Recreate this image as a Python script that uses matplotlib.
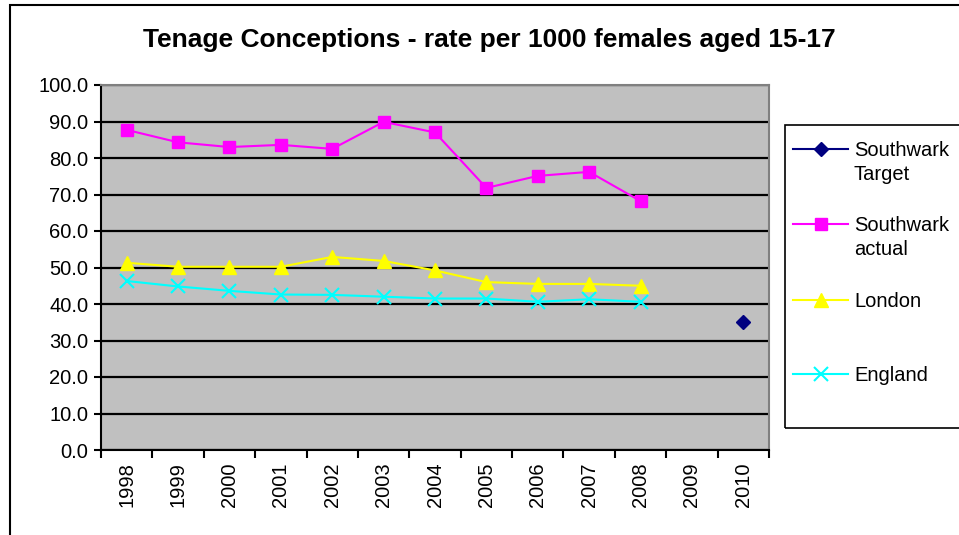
# Tenage conceptions chart, redrawn in matplotlib
import numpy as np
import matplotlib.pyplot as plt
from matplotlib.patches import Rectangle
from matplotlib.lines import Line2D
from matplotlib.ticker import FormatStrFormatter

plt.rcParams['font.family'] = ['Liberation Sans', 'DejaVu Sans']

# Data
years = ['1998', '1999', '2000', '2001', '2002', '2003', '2004',
         '2005', '2006', '2007', '2008', '2009', '2010']
southwark_actual = [87.7, 84.3, 83.0, 83.6, 82.5, 89.9, 87.0, 71.8, 75.1, 76.2, 68.2]
london = [51.3, 50.2, 50.2, 50.2, 52.9, 51.8, 49.2, 46.0, 45.5, 45.5, 45.0]
england = [46.3, 44.8, 43.6, 42.6, 42.5, 42.0, 41.5, 41.5, 40.6, 41.3, 40.6]
target_year = '2010'
target_value = [35.0]
labels = ['Southwark\nTarget', 'Southwark\nactual', 'London', 'England']

W, H = 959, 535
fig = plt.figure(figsize=(W / 100, H / 100), dpi=100)


def fx(px):
    return px / W


def fy(py):
    return 1 - py / H


# outer chart border (runs off the right and bottom edges)
fig.patches.append(Rectangle((fx(10), -0.05), 1.0, fy(5) + 0.05,
                             transform=fig.transFigure, fill=False,
                             edgecolor='black', linewidth=1.5))

ax = fig.add_axes([fx(101), fy(450), fx(668), 365 / H])
ax.set_facecolor('#C0C0C0')

x = np.arange(len(years))
ti = years.index(target_year)

styles = [
    dict(color='#000080', marker='D', markersize=7, linewidth=1.5),
    dict(color='#FF00FF', marker='s', markersize=9, linewidth=1.5),
    dict(color='#FFFF00', marker='^', markersize=10, linewidth=1.5),
    dict(color='#00FFFF', marker='x', markersize=10, markeredgewidth=1.5, linewidth=1.5),
]

ax.plot([ti], target_value, **styles[0])
ax.plot(x[:len(southwark_actual)], southwark_actual, **styles[1])
ax.plot(x[:len(london)], london, **styles[2])
ax.plot(x[:len(england)], england, **styles[3])

ax.set_ylim(0, 100)
ax.set_yticks(np.arange(0, 101, 10))
ax.yaxis.set_major_formatter(FormatStrFormatter('%.1f'))
ax.grid(axis='y', color='black', linewidth=1.6)
ax.set_axisbelow(True)

ax.set_xlim(-0.5, len(years) - 0.5)
ax.set_xticks(np.arange(-0.5, len(years), 1.0))
ax.set_xticklabels([])
ax.set_xticks(x, minor=True)
ax.set_xticklabels(years, minor=True, rotation=90, fontsize=14.5)
ax.tick_params(axis='x', which='minor', length=0, pad=9)
ax.tick_params(axis='x', which='major', length=6, width=1.5, direction='out')
ax.tick_params(axis='y', length=5, width=1.5, labelsize=14.5, pad=4)

for s in ['top', 'right']:
    ax.spines[s].set_color('#808080')
    ax.spines[s].set_linewidth(1.5)
for s in ['left', 'bottom']:
    ax.spines[s].set_color('black')
    ax.spines[s].set_linewidth(1.5)

fig.text(fx(489), fy(40), 'Tenage Conceptions - rate per 1000 females aged 15-17',
         ha='center', va='center', fontsize=19, fontweight='bold')

# legend box, clipped by the right edge as in the original
fig.patches.append(Rectangle((fx(785), fy(428)), 1.0, (428 - 125) / H,
                             transform=fig.transFigure, fill=False,
                             edgecolor='black', linewidth=1.2))
entry_y = [149, 224, 300, 374]
line_h = 24
for lab, st, yy in zip(labels, styles, entry_y):
    fig.add_artist(Line2D([fx(793), fx(848)], [fy(yy), fy(yy)],
                          transform=fig.transFigure, **st, markevery=[]))
    fig.add_artist(Line2D([fx(820.5)], [fy(yy)], transform=fig.transFigure,
                          linestyle='none', **{k: v for k, v in st.items() if k != 'linewidth'}))
    nl = lab.count('\n')
    fig.text(fx(854), fy(yy + 7 + line_h * nl), lab, ha='left', va='baseline',
             fontsize=14.5, linespacing=1.3)

plt.savefig('out.png', dpi=100)
